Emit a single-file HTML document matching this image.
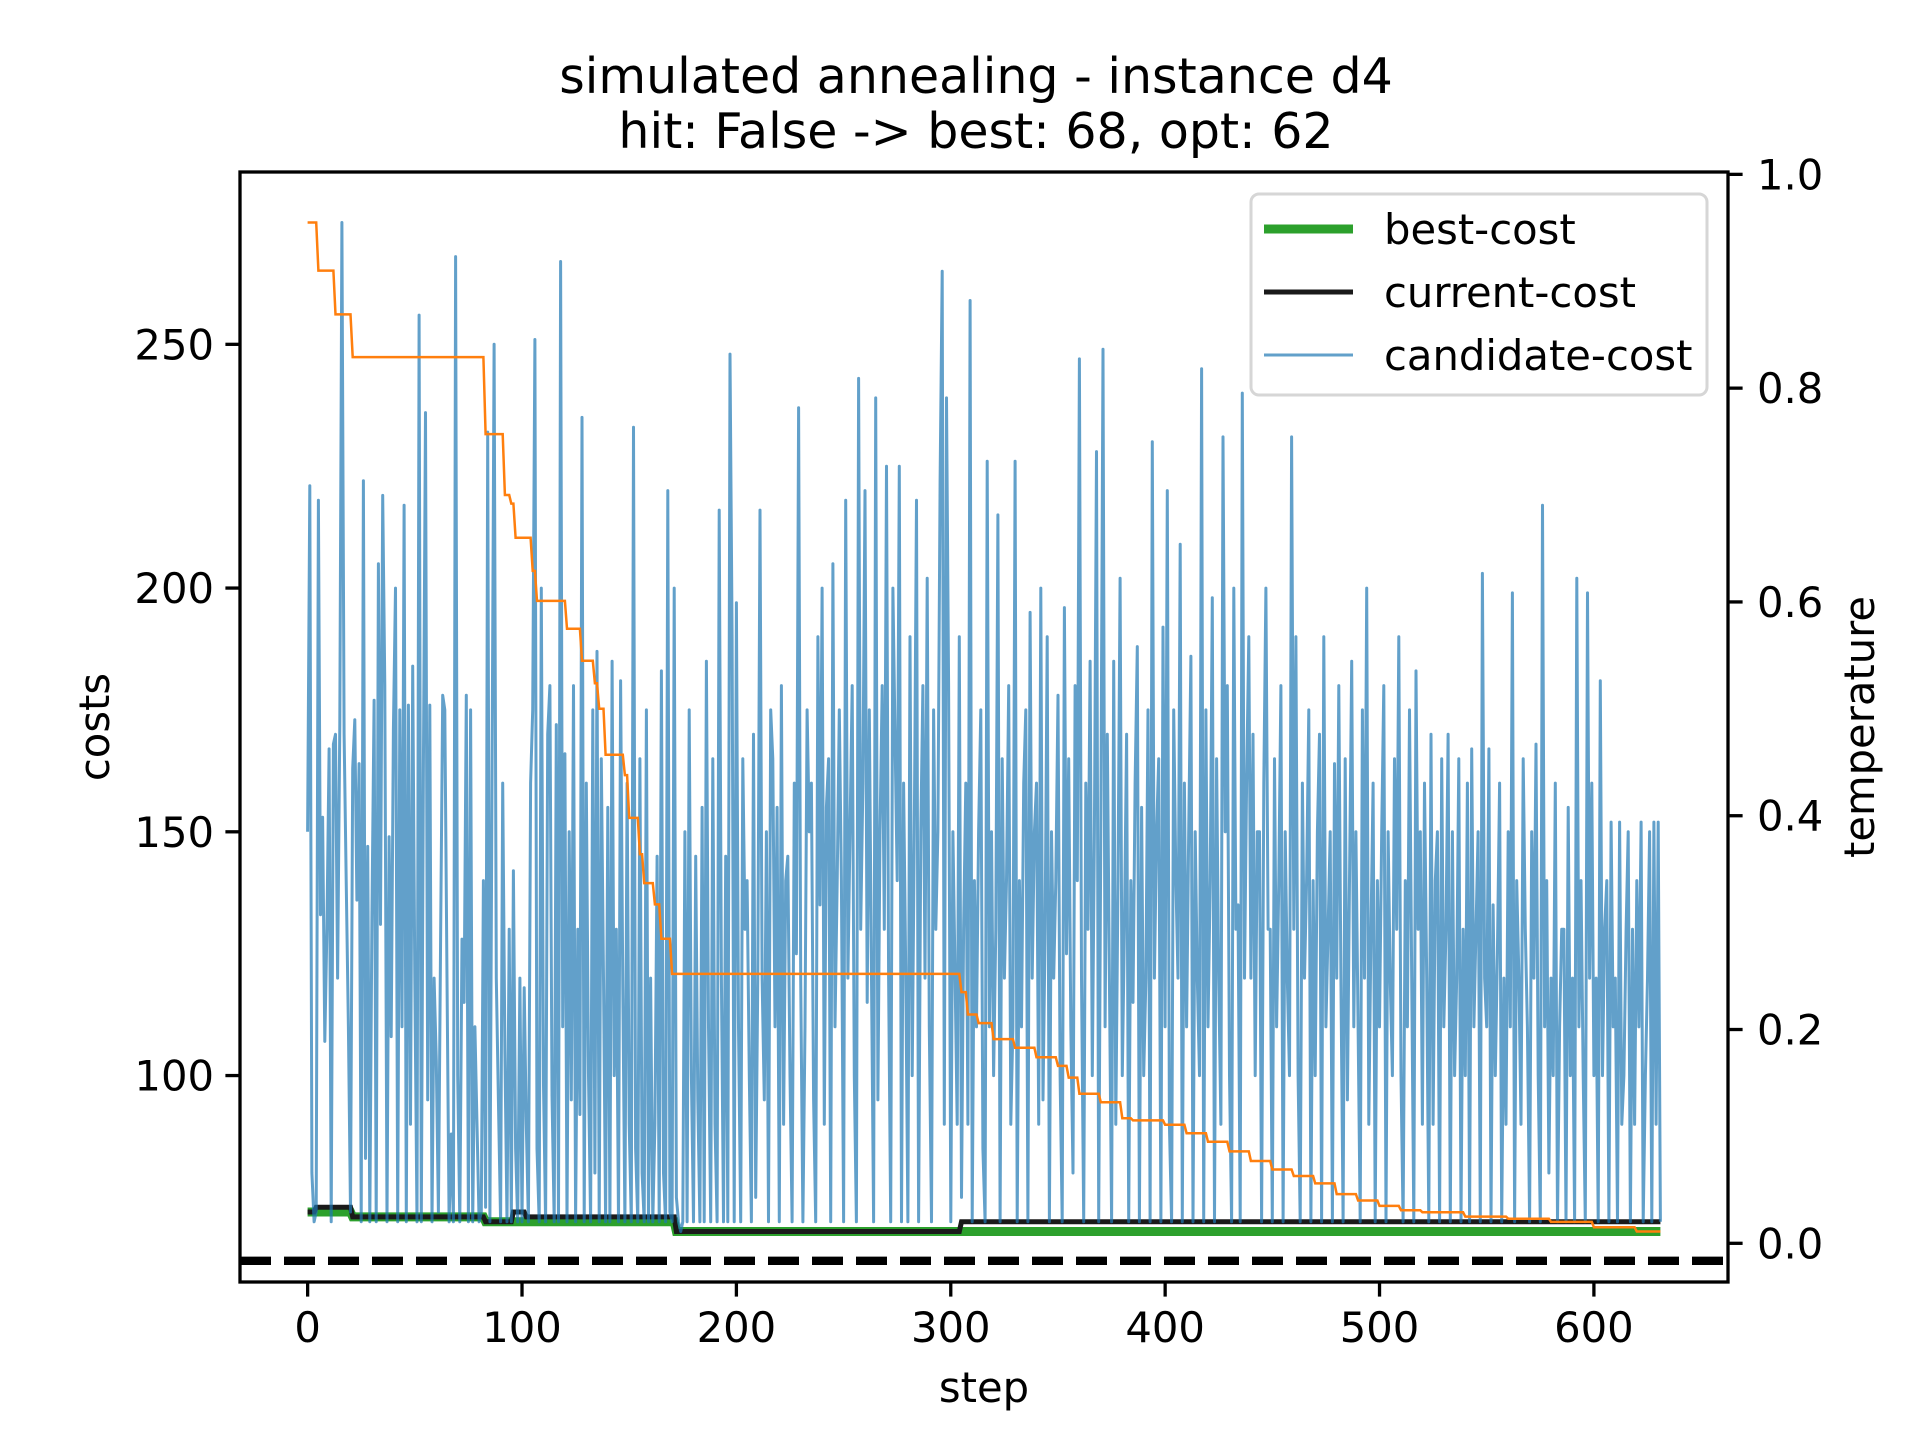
<!DOCTYPE html>
<html><head><meta charset="utf-8">
<style>
html,body{margin:0;padding:0;background:#fff;}
svg{display:block;font-family:"DejaVu Sans","Liberation Sans",sans-serif;}
</style></head>
<body>
<svg id="chart" width="1920" height="1440" viewBox="0 0 1920 1440" xmlns="http://www.w3.org/2000/svg">
<rect width="1920" height="1440" fill="#fff"/>
<text x="976" y="93" font-size="49" text-anchor="middle">simulated annealing - instance d4</text>
<text x="976" y="148" font-size="49" text-anchor="middle">hit: False -&gt; best: 68, opt: 62</text>
<g id="plot"></g>
<g id="axes"></g>
<g id="legend">
<rect x="1251" y="194" width="456" height="201" rx="8" fill="#fff" fill-opacity="0.8" stroke="#d6d6d6" stroke-width="3"/>
<line x1="1264" y1="229" x2="1353" y2="229" stroke="#2ca02c" stroke-width="9"/>
<text x="1384" y="244" font-size="41.7">best-cost</text>
<line x1="1264" y1="292" x2="1353" y2="292" stroke="#1a1a1a" stroke-width="5"/>
<text x="1384" y="307" font-size="41.7">current-cost</text>
<line x1="1264" y1="355" x2="1353" y2="355" stroke="#1f77b4" stroke-opacity="0.7" stroke-width="3"/>
<text x="1384" y="370" font-size="41.7">candidate-cost</text>
</g>
<text x="984" y="1402" font-size="41.7" text-anchor="middle">step</text>
<text x="0" y="0" font-size="41.7" text-anchor="middle" transform="translate(109,727) rotate(-90)">costs</text>
<text x="0" y="0" font-size="41.7" text-anchor="middle" transform="translate(1874,727) rotate(-90)">temperature</text>
</svg>
<script>
const candidateCost = [
150,221,80,70,72,218,133,153,107,130,167,70,168,170,120,172,275,170,140,110,
72,163,173,136,164,70,222,83,147,70,132,177,70,205,131,219,180,70,149,108,
171,200,70,175,110,217,70,176,90,184,120,70,256,70,163,236,95,176,70,120,
103,72,128,178,175,120,70,88,70,268,100,70,128,115,178,70,175,70,110,90,
70,72,140,73,232,70,160,250,120,95,70,160,105,70,130,70,142,85,70,120,
70,118,90,70,160,175,251,85,70,200,98,70,170,180,96,70,172,70,267,110,
166,70,150,95,180,70,130,92,235,70,160,100,70,175,80,187,70,165,120,70,
155,70,185,100,130,70,181,118,70,160,90,70,233,85,70,165,80,70,175,70,
120,70,90,145,70,183,80,70,220,72,70,200,75,70,68,70,150,70,175,100,
70,145,95,70,155,70,185,110,70,165,90,70,216,120,70,145,70,248,190,70,
197,110,70,165,130,140,100,70,170,75,120,216,120,95,150,70,175,165,110,155,
70,180,90,140,145,100,70,160,125,237,120,70,110,175,150,160,95,70,190,135,
200,90,155,165,70,205,110,140,175,140,70,218,120,150,180,100,70,243,130,160,
220,115,175,120,70,239,95,150,180,130,225,120,70,200,170,140,225,70,160,120,
70,190,100,150,218,70,150,180,120,202,110,70,175,130,150,222,265,90,239,180,
70,150,120,90,190,75,130,160,90,259,70,140,110,150,175,85,70,226,110,150,
100,130,215,70,165,120,140,180,90,110,226,70,140,110,160,175,70,195,120,150,
160,90,200,95,130,190,70,150,120,140,178,100,70,196,125,165,110,80,180,140,
247,120,70,160,130,185,100,150,228,70,150,249,110,170,120,70,185,90,140,202,
100,130,170,70,140,115,160,188,70,155,100,120,175,70,230,120,150,165,70,192,
110,220,90,70,175,140,120,209,70,160,110,150,186,70,150,120,100,245,70,175,
110,140,198,70,165,120,90,231,150,180,100,70,200,130,135,70,240,120,160,190,
120,170,100,150,150,70,160,200,130,130,70,165,110,140,180,70,150,120,100,231,
130,190,100,70,160,120,140,175,70,140,100,150,170,70,190,110,130,150,70,164,
120,180,120,70,165,95,140,185,110,150,110,70,175,120,200,90,130,160,70,140,
110,150,180,70,150,120,100,165,130,190,100,70,140,110,175,120,70,183,130,150,
90,160,120,70,170,90,140,150,70,165,110,130,170,70,150,100,120,165,70,130,
100,160,70,167,110,130,150,70,203,120,110,167,70,135,100,125,160,70,120,90,
150,110,199,70,140,120,90,165,130,110,70,150,120,168,100,70,217,110,140,80,
120,100,160,70,110,130,130,70,155,100,120,70,202,110,140,100,70,199,120,160,
100,120,70,181,100,130,140,70,152,110,120,70,152,90,100,130,150,70,130,90,
140,110,152,70,100,120,150,70,152,90,152,70];
const bestStartSteps = [0,21,83,172];
const bestValues = [72,71,70,68];
const currentStartSteps = [0,4,21,83,96,102,172,305];
const currentValues = [72,73,71,70,72,71,68,70];
const tempStartSteps = [0,5,13,21,83,92,95,97,105,107,121,128,134,136,139,148,150,155,157,162,165,170,305,308,313,320,330,340,350,355,360,370,380,385,400,410,420,430,440,450,460,470,480,490,500,510,520,540,560,580,600,620];
const tempValues = [0.955,0.910,0.869,0.829,0.757,0.70,0.692,0.660,0.629,0.601,0.575,0.545,0.524,0.500,0.457,0.438,0.398,0.364,0.337,0.317,0.285,0.252,0.235,0.214,0.206,0.191,0.183,0.174,0.166,0.155,0.140,0.132,0.117,0.115,0.111,0.103,0.095,0.086,0.077,0.069,0.063,0.056,0.046,0.040,0.035,0.031,0.029,0.025,0.023,0.020,0.015,0.011];
const optCost = 62;
const xTicks = [0,100,200,300,400,500,600];
const yTicks = [100,150,200,250];
const y2Ticks = [0.0,0.2,0.4,0.6,0.8,1.0];

const L=240,R=1728,T=172,B=1282;
const n=candidateCost.length;
const x0=-0.05*(n-1), x1=(n-1)*1.05;
const allCost=candidateCost.concat(bestValues,currentValues);
const cmin=Math.min(...allCost), cmax=Math.max(...allCost);
const y0=cmin-0.05*(cmax-cmin), y1=cmax+0.05*(cmax-cmin);
const tmin=Math.min(...tempValues), tmax=Math.max(...tempValues);
const t0=tmin-0.05*(tmax-tmin), t1=tmax+0.05*(tmax-tmin);
const sx=v=>L+(v-x0)/(x1-x0)*(R-L);
const sy=v=>B-(v-y0)/(y1-y0)*(B-T);
const sy2=v=>B-(v-t0)/(t1-t0)*(B-T);
const NS='http://www.w3.org/2000/svg';
function mk(tag,attrs,parent){const e=document.createElementNS(NS,tag);for(const k in attrs)e.setAttribute(k,attrs[k]);parent.appendChild(e);return e;}
function stepSeries(starts,vals){const out=[];let j=0;for(let i=0;i<n;i++){while(j+1<starts.length&&starts[j+1]<=i)j++;out.push(vals[j]);}return out;}
const plot=document.getElementById('plot');
const axes=document.getElementById('axes');
const clip=mk('clipPath',{id:'clipA'},mk('defs',{},plot));
mk('rect',{x:L,y:T,width:R-L,height:B-T},clip);
const g=mk('g',{'clip-path':'url(#clipA)'},plot);

const best=stepSeries(bestStartSteps,bestValues);
const cur=stepSeries(currentStartSteps,currentValues);
const temp=stepSeries(tempStartSteps,tempValues);
const pts=(arr,f)=>arr.map((v,i)=>sx(i).toFixed(1)+','+f(v).toFixed(1)).join(' ');

const pb=mk('polyline',{points:pts(best,sy),fill:'none',stroke:'#2ca02c','stroke-width':9},g);


const pc=mk('polyline',{points:pts(cur,sy),fill:'none',stroke:'#1a1a1a','stroke-width':5},g);


const pd=mk('polyline',{points:pts(candidateCost,sy),fill:'none',stroke:'#1f77b4','stroke-opacity':0.7,'stroke-width':3,'stroke-linejoin':'round'},g);


const ho=mk('line',{x1:L,x2:R,y1:sy(optCost),y2:sy(optCost),stroke:'#000','stroke-width':8.3,'stroke-dasharray':'31 13'},g);


const pt=mk('polyline',{points:pts(temp,sy2),fill:'none',stroke:'#ff7f0e','stroke-width':2.5},g);



const fr=mk('rect',{x:L,y:T,width:R-L,height:B-T,fill:'none',stroke:'#000','stroke-width':3.3},axes);


xTicks.forEach(v=>{
  const t=mk('line',{x1:sx(v),x2:sx(v),y1:B,y2:B+14.6,stroke:'#000','stroke-width':3.3},axes);
  
  
  const l=mk('text',{x:sx(v),y:B+60,'font-size':41.7,'text-anchor':'middle'},axes);
  
  
  l.textContent=v;
});
yTicks.forEach(v=>{
  const t=mk('line',{x1:L-14.6,x2:L,y1:sy(v),y2:sy(v),stroke:'#000','stroke-width':3.3},axes);
  
  
  const l=mk('text',{x:L-26,y:sy(v)+15,'font-size':41.7,'text-anchor':'end'},axes);
  
  
  l.textContent=v;
});
y2Ticks.forEach(v=>{
  const t=mk('line',{x1:R,x2:R+14.6,y1:sy2(v),y2:sy2(v),stroke:'#000','stroke-width':3.3},axes);
  
  
  const l=mk('text',{x:R+29,y:sy2(v)+15,'font-size':41.7},axes);
  
  
  l.textContent=v.toFixed(1);
});
</script>
</body></html>
